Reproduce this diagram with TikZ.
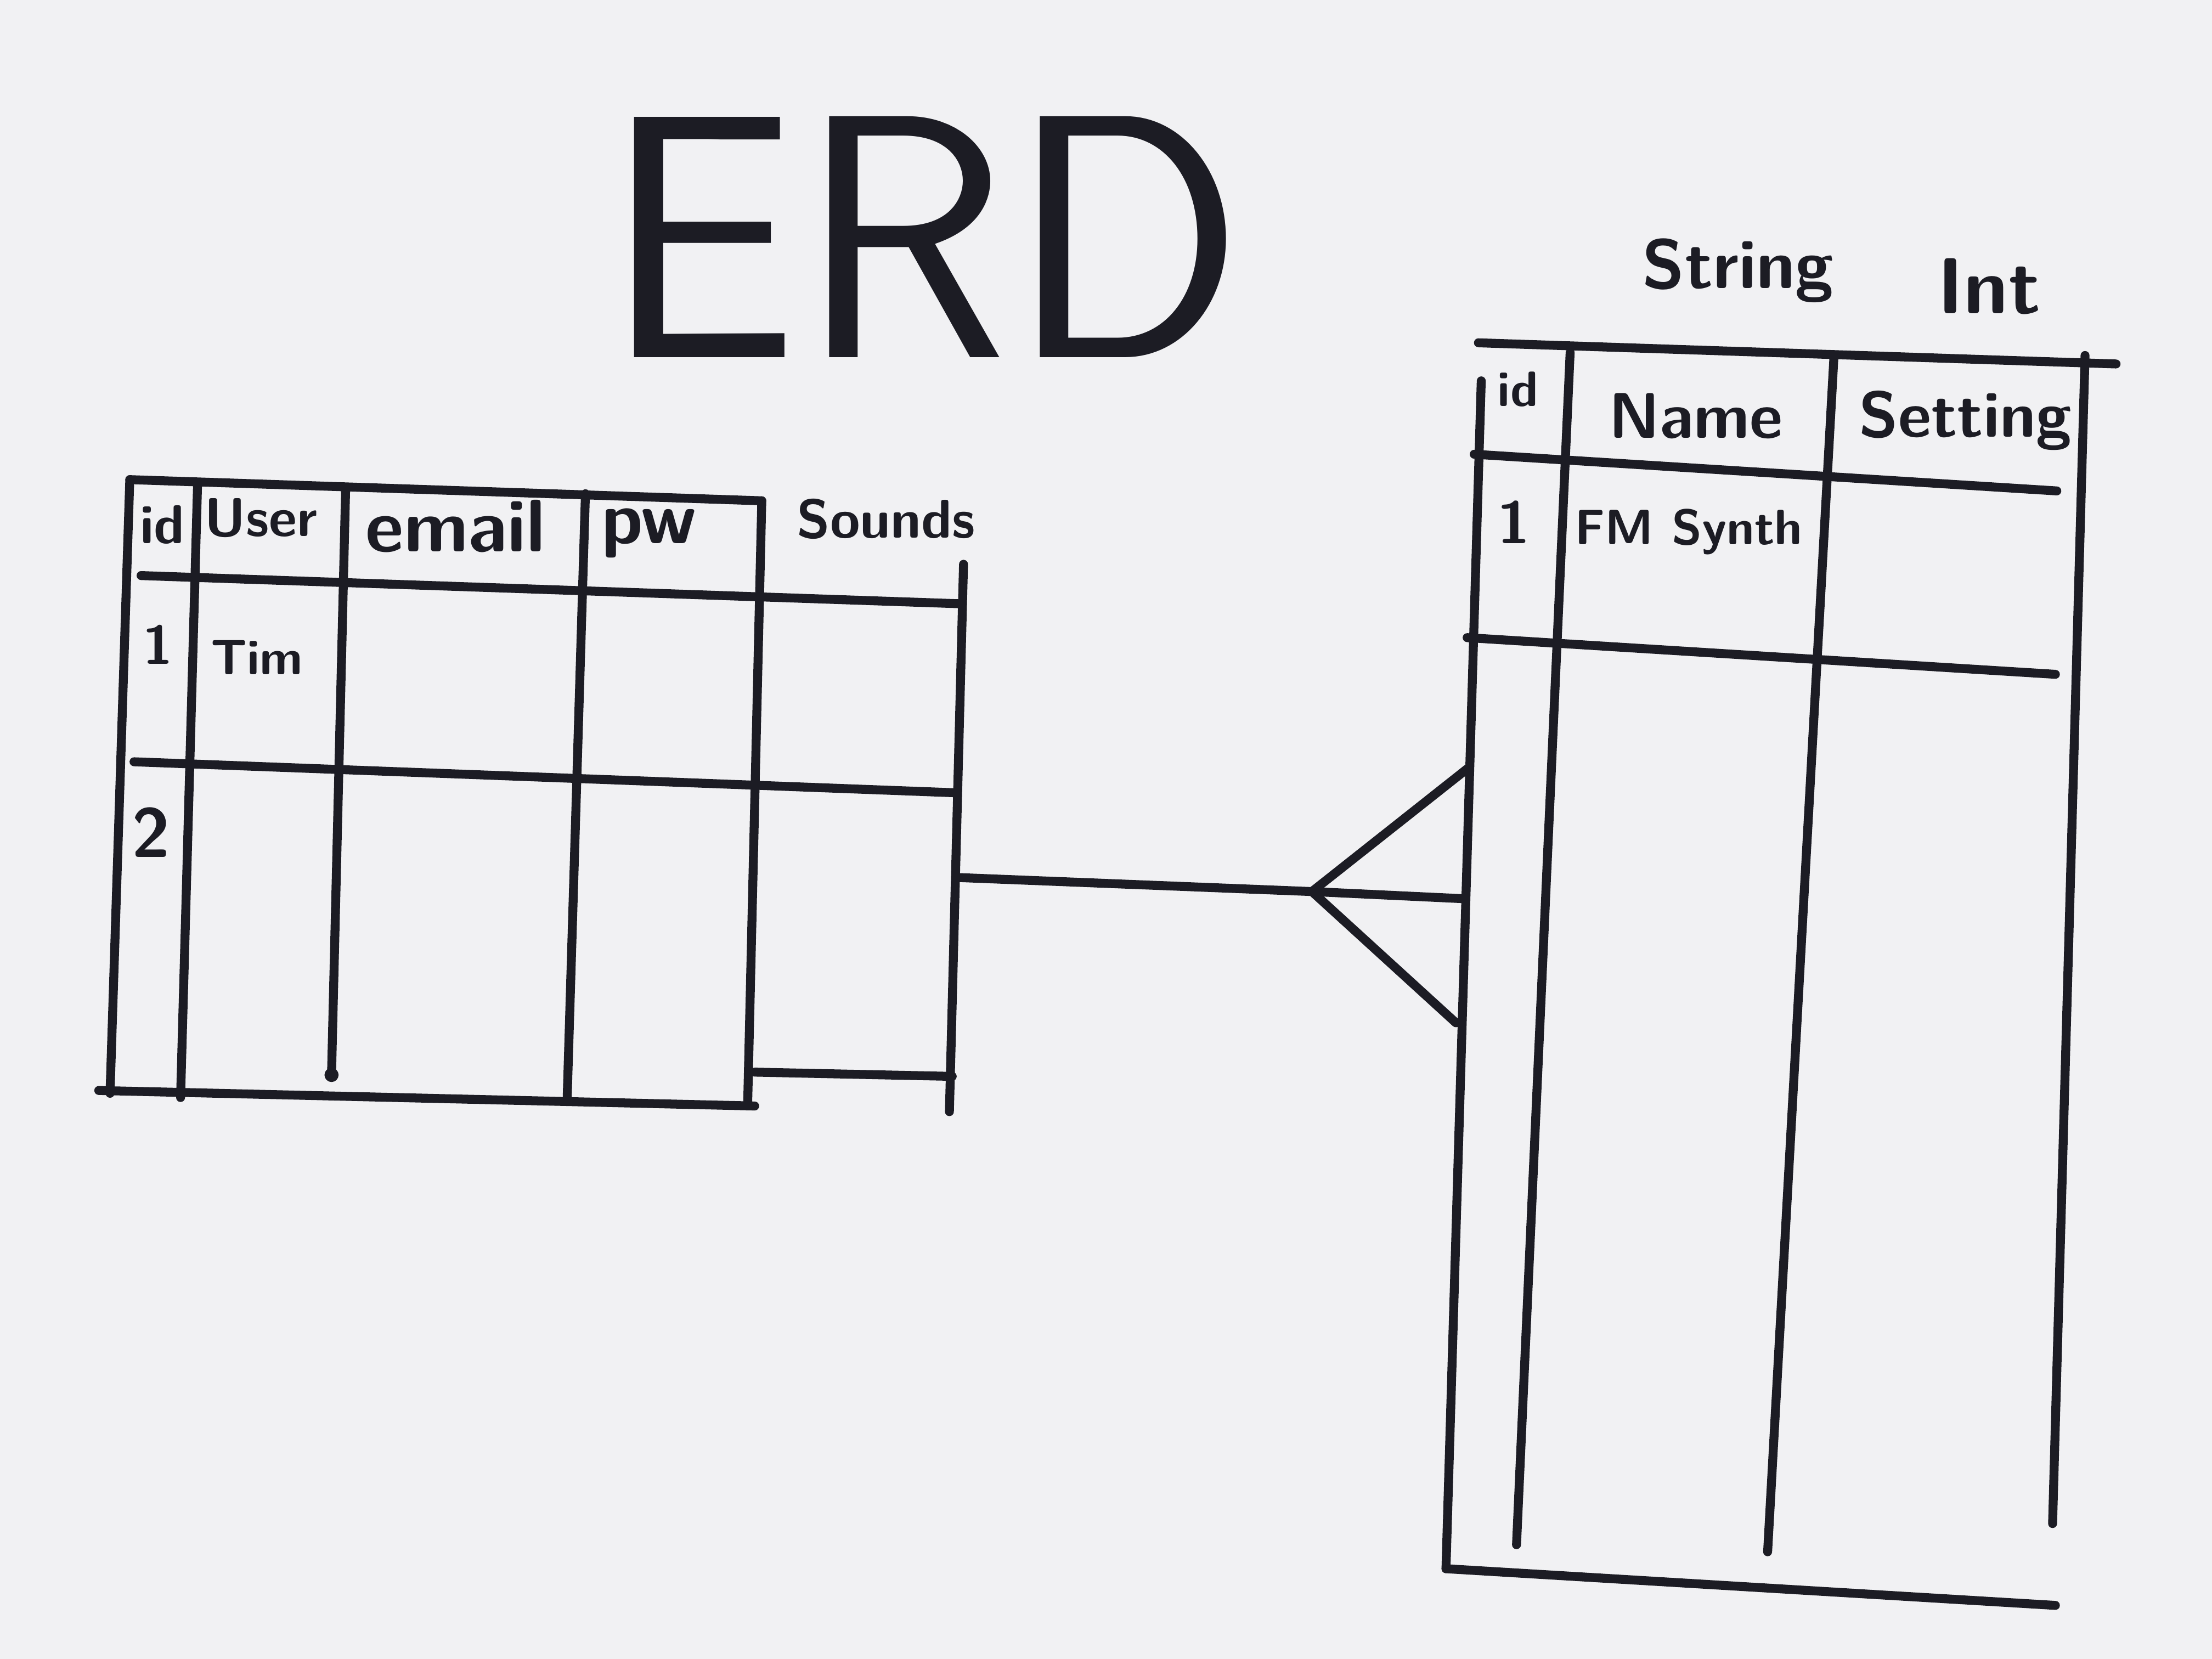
\documentclass[tikz,border=0pt]{standalone}
\usepackage{xcolor}
\usetikzlibrary{positioning}
\definecolor{paper}{RGB}{241,241,243}
\definecolor{ink}{RGB}{28,28,36}
\tikzset{
  pen/.style={ink, line width=1.8pt, line cap=round},
  hand/.style={ink, inner sep=0pt, font=\sffamily\bfseries},
}

\begin{document}
\begin{tikzpicture}[x=0.01cm,y=-0.01cm]
    \fill[paper] (0,0) rectangle (1568,1176);
    \useasboundingbox (0,0) rectangle (1568,1176);

    \node[hand, font=\sffamily\fontsize{70}{74}\selectfont] (erd) at (655,168) {ERD};

    % users table
    \coordinate (uTL) at (92,340);   \coordinate (uBL) at (78,775);
    \coordinate (uA1) at (140,345);  \coordinate (uA2) at (128,778);
    \coordinate (uB1) at (245,347);  \coordinate (uB2) at (235,762);
    \coordinate (uC1) at (415,350);  \coordinate (uC2) at (402,780);
    \coordinate (uD1) at (540,355);  \coordinate (uD2) at (530,782);
    \coordinate (uE1) at (683,400);  \coordinate (uE2) at (673,788);

    \draw[pen] (uTL) -- (uD1);
    \draw[pen] (uTL) -- (uBL);
    \draw[pen] (uA1) -- (uA2);
    \draw[pen] (uB1) -- (uB2);
    \fill[ink] (uB2) circle (5);
    \draw[pen] (uC1) -- (uC2);
    \draw[pen] (uD1) -- (uD2);
    \draw[pen] (uE1) -- (uE2);
    \draw[pen] (100,408) -- (681,428);
    \draw[pen] (95,540) -- (678,562);
    \draw[pen] (70,773) -- (535,784);
    \draw[pen] (535,760) -- (675,763);

    \node[hand, font=\sffamily\bfseries\fontsize{11}{12}\selectfont] (uid) at (115,372) {id};
    \node[hand, font=\sffamily\bfseries\fontsize{11}{12}\selectfont] (uuser) at (185,367) {User};
    \node[hand, font=\sffamily\bfseries\fontsize{15}{16}\selectfont] (uemail) at (323,373) {email};
    \node[hand, font=\sffamily\bfseries\fontsize{15}{16}\selectfont] (upw) at (460,378) {pw};
    \node[hand, font=\sffamily\bfseries\fontsize{11}{12}\selectfont] (usounds) at (628,368) {Sounds};
    \node[hand, font=\sffamily\bfseries\fontsize{11}{12}\selectfont] (u1) at (112,457) {1};
    \node[hand, font=\sffamily\bfseries\fontsize{10}{11}\selectfont] (utim) at (182,466) {Tim};
    \node[hand, font=\sffamily\bfseries\fontsize{14}{15}\selectfont] (u2) at (107,590) {2};

    % sounds table
    \coordinate (sTL) at (1048,243); \coordinate (sTR) at (1500,258);
    \coordinate (sL1) at (1050,270); \coordinate (sL2) at (1025,1112);
    \coordinate (sA1) at (1113,250); \coordinate (sA2) at (1075,1095);
    \coordinate (sB1) at (1300,253); \coordinate (sB2) at (1253,1100);
    \coordinate (sC1) at (1478,252); \coordinate (sC2) at (1455,1080);

    \draw[pen] (sTL) -- (sTR);
    \draw[pen] (sL1) -- (sL2);
    \draw[pen] (sA1) -- (sA2);
    \draw[pen] (sB1) -- (sB2);
    \draw[pen] (sC1) -- (sC2);
    \draw[pen] (1045,322) -- (1458,348);
    \draw[pen] (1040,452) -- (1457,478);
    \draw[pen] (1025,1112) -- (1457,1138);

    \node[hand, font=\sffamily\bfseries\fontsize{14}{15}\selectfont] (sstring) at (1232,192) {String};
    \node[hand, font=\sffamily\bfseries\fontsize{16}{17}\selectfont] (sint) at (1410,203) {Int};
    \node[hand, font=\sffamily\bfseries\fontsize{10}{11}\selectfont] (sid) at (1076,276) {id};
    \node[hand, font=\sffamily\bfseries\fontsize{13}{14}\selectfont] (sname) at (1202,295) {Name};
    \node[hand, font=\sffamily\bfseries\fontsize{13}{14}\selectfont] (ssetting) at (1393,298) {Setting};
    \node[hand, font=\sffamily\bfseries\fontsize{12}{13}\selectfont] (s1) at (1073,370) {1};
    \node[hand, font=\sffamily\bfseries\fontsize{10}{11}\selectfont] (sfm) at (1197,377) {FM Synth};

    % one to many
    \coordinate (one) at (678,622);
    \coordinate (fork) at (930,632);
    \coordinate (toeA) at (1040,545);
    \coordinate (toeB) at (1036,637);
    \coordinate (toeC) at (1032,725);
    \draw[pen] (one) -- (fork);
    \draw[pen] (fork) -- (toeA);
    \draw[pen] (fork) -- (toeB);
    \draw[pen] (fork) -- (toeC);
\end{tikzpicture}
\end{document}
